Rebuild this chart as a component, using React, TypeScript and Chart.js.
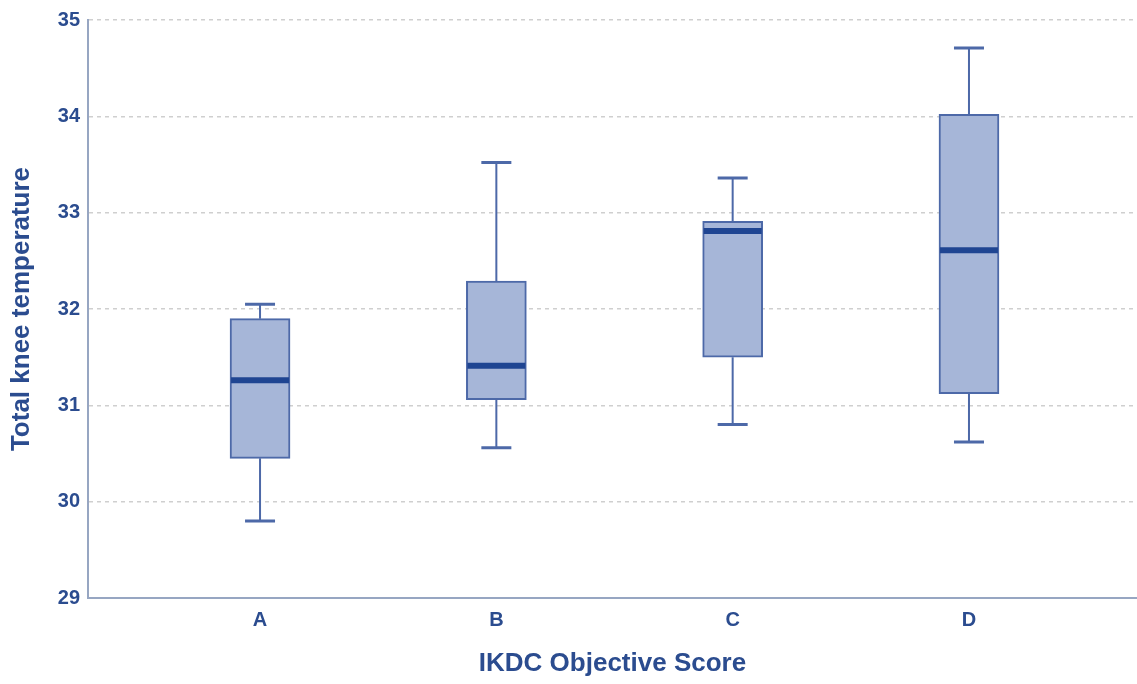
import React, { useEffect, useRef } from "react";
import { Chart, registerables } from "chart.js";

Chart.register(...registerables);

const categories = ["A", "B", "C", "D"];
const minValues = [29.8, 30.56, 30.8, 30.62];
const q1Values = [30.45, 31.06, 31.5, 31.12];
const medianValues = [31.26, 31.41, 32.81, 32.61];
const q3Values = [31.9, 32.29, 32.91, 34.02];
const maxValues = [32.05, 33.52, 33.36, 34.71];
const yTicks = [29, 30, 31, 32, 33, 34, 35];

const TEXT = "#2b4c8f";
const AXIS = "#97a6c2";
const BOX_FILL = "#a6b6d8";
const BOX_BORDER = "#4d69a8";
const MEDIAN = "#1f4592";

const boxPlugin = {
  id: "boxWhiskers",
  afterDatasetsDraw(chart: any) {
    const ctx = chart.ctx;
    const xs = chart.scales.x;
    const ys = chart.scales.y;
    ctx.save();
    categories.forEach((_, i) => {
      const cx = xs.getPixelForValue(i);
      const capHalf = 15;
      const boxHalf = 30;
      ctx.strokeStyle = BOX_BORDER;
      ctx.lineWidth = 2;
      ctx.beginPath();
      ctx.moveTo(cx, ys.getPixelForValue(q3Values[i]));
      ctx.lineTo(cx, ys.getPixelForValue(maxValues[i]));
      ctx.moveTo(cx, ys.getPixelForValue(q1Values[i]));
      ctx.lineTo(cx, ys.getPixelForValue(minValues[i]));
      ctx.stroke();
      ctx.lineWidth = 3;
      ctx.beginPath();
      const yMax = ys.getPixelForValue(maxValues[i]);
      const yMin = ys.getPixelForValue(minValues[i]);
      ctx.moveTo(cx - capHalf, yMax);
      ctx.lineTo(cx + capHalf, yMax);
      ctx.moveTo(cx - capHalf, yMin);
      ctx.lineTo(cx + capHalf, yMin);
      ctx.stroke();
      ctx.strokeStyle = MEDIAN;
      ctx.lineWidth = 6;
      ctx.beginPath();
      const yMed = ys.getPixelForValue(medianValues[i]);
      ctx.moveTo(cx - boxHalf + 1, yMed);
      ctx.lineTo(cx + boxHalf - 1, yMed);
      ctx.stroke();
    });
    ctx.restore();
  },
};

export default function App() {
  const canvasRef = useRef<HTMLCanvasElement | null>(null);

  useEffect(() => {
    document.body.style.margin = "0";
    Chart.defaults.font.family = "'Liberation Sans', Arial, sans-serif";
    const chart = new Chart(canvasRef.current as HTMLCanvasElement, {
      type: "bar",
      data: {
        datasets: [
          {
            label: "IQR",
            data: categories.map((_, i) => ({ x: i, y: [q1Values[i], q3Values[i]] })) as any,
            backgroundColor: BOX_FILL,
            borderColor: BOX_BORDER,
            borderWidth: 2,
            borderSkipped: false,
            barThickness: 60,
          },
        ],
      },
      options: {
        animation: false,
        responsive: true,
        maintainAspectRatio: false,
        layout: { padding: { top: 18, right: 0, left: 0, bottom: 0 } },
        plugins: { legend: { display: false }, tooltip: { enabled: false } },
        scales: {
          x: {
            type: "linear",
            offset: false,
            min: -0.728,
            max: 3.711,
            afterBuildTicks: (scale: any) => {
              scale.ticks = categories.map((_, i) => ({ value: i }));
            },
            afterFit: (scale: any) => {
              scale.height = 86;
            },
            ticks: {
              callback: (v: any) => categories[v as number] ?? "",
              color: TEXT,
              font: { size: 20, weight: "bold" },
              padding: 10,
              autoSkip: false,
              maxRotation: 0,
            },
            grid: { display: false, drawTicks: false, offset: false },
            border: { display: true, color: AXIS, width: 2 },
            title: {
              display: true,
              text: "IKDC Objective Score",
              color: TEXT,
              font: { size: 26, weight: "bold" },
              padding: { top: 0, bottom: 5 },
            },
          },
          y: {
            min: 29,
            max: 35,
            afterBuildTicks: (scale: any) => {
              scale.ticks = yTicks.map((v) => ({ value: v }));
            },
            afterFit: (scale: any) => {
              scale.width = 88;
            },
            ticks: {
              color: TEXT,
              font: { size: 20, weight: "bold" },
              padding: 8,
            },
            grid: {
              drawTicks: false,
              color: (c: any) => (c.tick && c.tick.value === 29 ? "rgba(0,0,0,0)" : "#cfcfcf"),
              lineWidth: 1.5,
            },
            border: { display: true, color: AXIS, width: 2, dash: [4, 4] },
            title: {
              display: true,
              text: "Total knee temperature",
              color: TEXT,
              font: { size: 26, weight: "bold" },
              padding: { top: 6, bottom: 0 },
            },
          },
        },
      } as any,
      plugins: [boxPlugin],
    });
    return () => chart.destroy();
  }, []);

  return (
    <div style={{ width: 1137, height: 684, position: "relative" }}>
      <canvas ref={canvasRef} />
    </div>
  );
}
